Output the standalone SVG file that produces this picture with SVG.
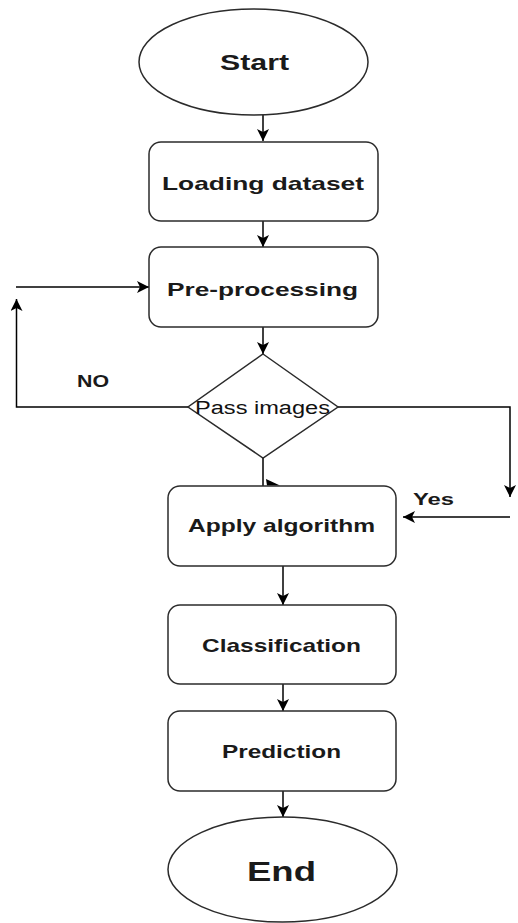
<svg xmlns="http://www.w3.org/2000/svg" width="518" height="923" viewBox="0 0 518 923">
  <style>
    .shape { fill: #ffffff; stroke: #2b2b2b; stroke-width: 1.5; }
    .conn { fill: none; stroke: #000000; stroke-width: 1.5; }
    .lbl { font-family: "Liberation Sans", Arial, sans-serif; font-weight: bold; fill: #1a1a1a; text-anchor: middle; }
    .thin { font-weight: normal; fill: #111111; }
  </style>
  <defs>
    <marker id="arr" viewBox="0 0 12 12" refX="12" refY="6" markerWidth="12" markerHeight="12" markerUnits="userSpaceOnUse" orient="auto">
      <path d="M0,0 L12,6 L0,12 L3,6 z" fill="#000000"/>
    </marker>
  </defs>
  <rect width="518" height="923" fill="#ffffff"/>

  <g id="connectors">
    <path class="conn" d="M263,115 V141" marker-end="url(#arr)"/>
    <path class="conn" d="M263,221 V247" marker-end="url(#arr)"/>
    <path class="conn" d="M263,327 V354" marker-end="url(#arr)"/>
    <path class="conn" d="M16,287 H149" marker-end="url(#arr)"/>
    <path class="conn" d="M190,407 H16.5 V299" marker-end="url(#arr)"/>
    <path class="conn" d="M338,407 H510 V497" marker-end="url(#arr)"/>
    <path class="conn" d="M510,517 H403" marker-end="url(#arr)"/>
    <path class="conn" d="M263,458 V486"/>
    <polygon points="266,479 280,485.5 267,485.5" fill="#000000"/>
    <path class="conn" d="M283,566 V605" marker-end="url(#arr)"/>
    <path class="conn" d="M283,684 V711" marker-end="url(#arr)"/>
    <path class="conn" d="M283,791 V817" marker-end="url(#arr)"/>
    <text class="lbl" x="93" y="387" font-size="16" textLength="32" lengthAdjust="spacingAndGlyphs">NO</text>
    <text class="lbl" x="433.5" y="505" font-size="16" textLength="41" lengthAdjust="spacingAndGlyphs">Yes</text>
  </g>

  <g id="start">
    <ellipse class="shape" cx="253.5" cy="62" rx="114.5" ry="53"/>
    <text class="lbl" x="254.5" y="70" font-size="22" textLength="69" lengthAdjust="spacingAndGlyphs">Start</text>
  </g>

  <g id="loading">
    <rect class="shape" x="149" y="142" width="229" height="79" rx="12"/>
    <text class="lbl" x="263" y="190" font-size="19" textLength="202" lengthAdjust="spacingAndGlyphs">Loading dataset</text>
  </g>

  <g id="preprocessing">
    <rect class="shape" x="149" y="247" width="229" height="80" rx="12"/>
    <text class="lbl" x="262.5" y="296" font-size="19" textLength="191" lengthAdjust="spacingAndGlyphs">Pre-processing</text>
  </g>

  <g id="decision">
    <polygon class="shape" points="263,354 338,407 263,458 188,407"/>
    <text class="lbl thin" x="262.5" y="413.5" font-size="18" textLength="135" lengthAdjust="spacingAndGlyphs">Pass images</text>
  </g>

  <g id="apply">
    <rect class="shape" x="168" y="486" width="228" height="80" rx="12"/>
    <text class="lbl" x="281.5" y="532" font-size="19" textLength="187" lengthAdjust="spacingAndGlyphs">Apply algorithm</text>
  </g>

  <g id="classification">
    <rect class="shape" x="168" y="605" width="228" height="79" rx="12"/>
    <text class="lbl" x="281.5" y="652" font-size="19" textLength="159" lengthAdjust="spacingAndGlyphs">Classification</text>
  </g>

  <g id="prediction">
    <rect class="shape" x="168" y="711" width="228" height="80" rx="12"/>
    <text class="lbl" x="281.5" y="758" font-size="19" textLength="119" lengthAdjust="spacingAndGlyphs">Prediction</text>
  </g>

  <g id="end">
    <ellipse class="shape" cx="282.5" cy="869.5" rx="114.5" ry="52.5"/>
    <text class="lbl" x="281.5" y="881" font-size="27" textLength="69" lengthAdjust="spacingAndGlyphs">End</text>
  </g>
</svg>
